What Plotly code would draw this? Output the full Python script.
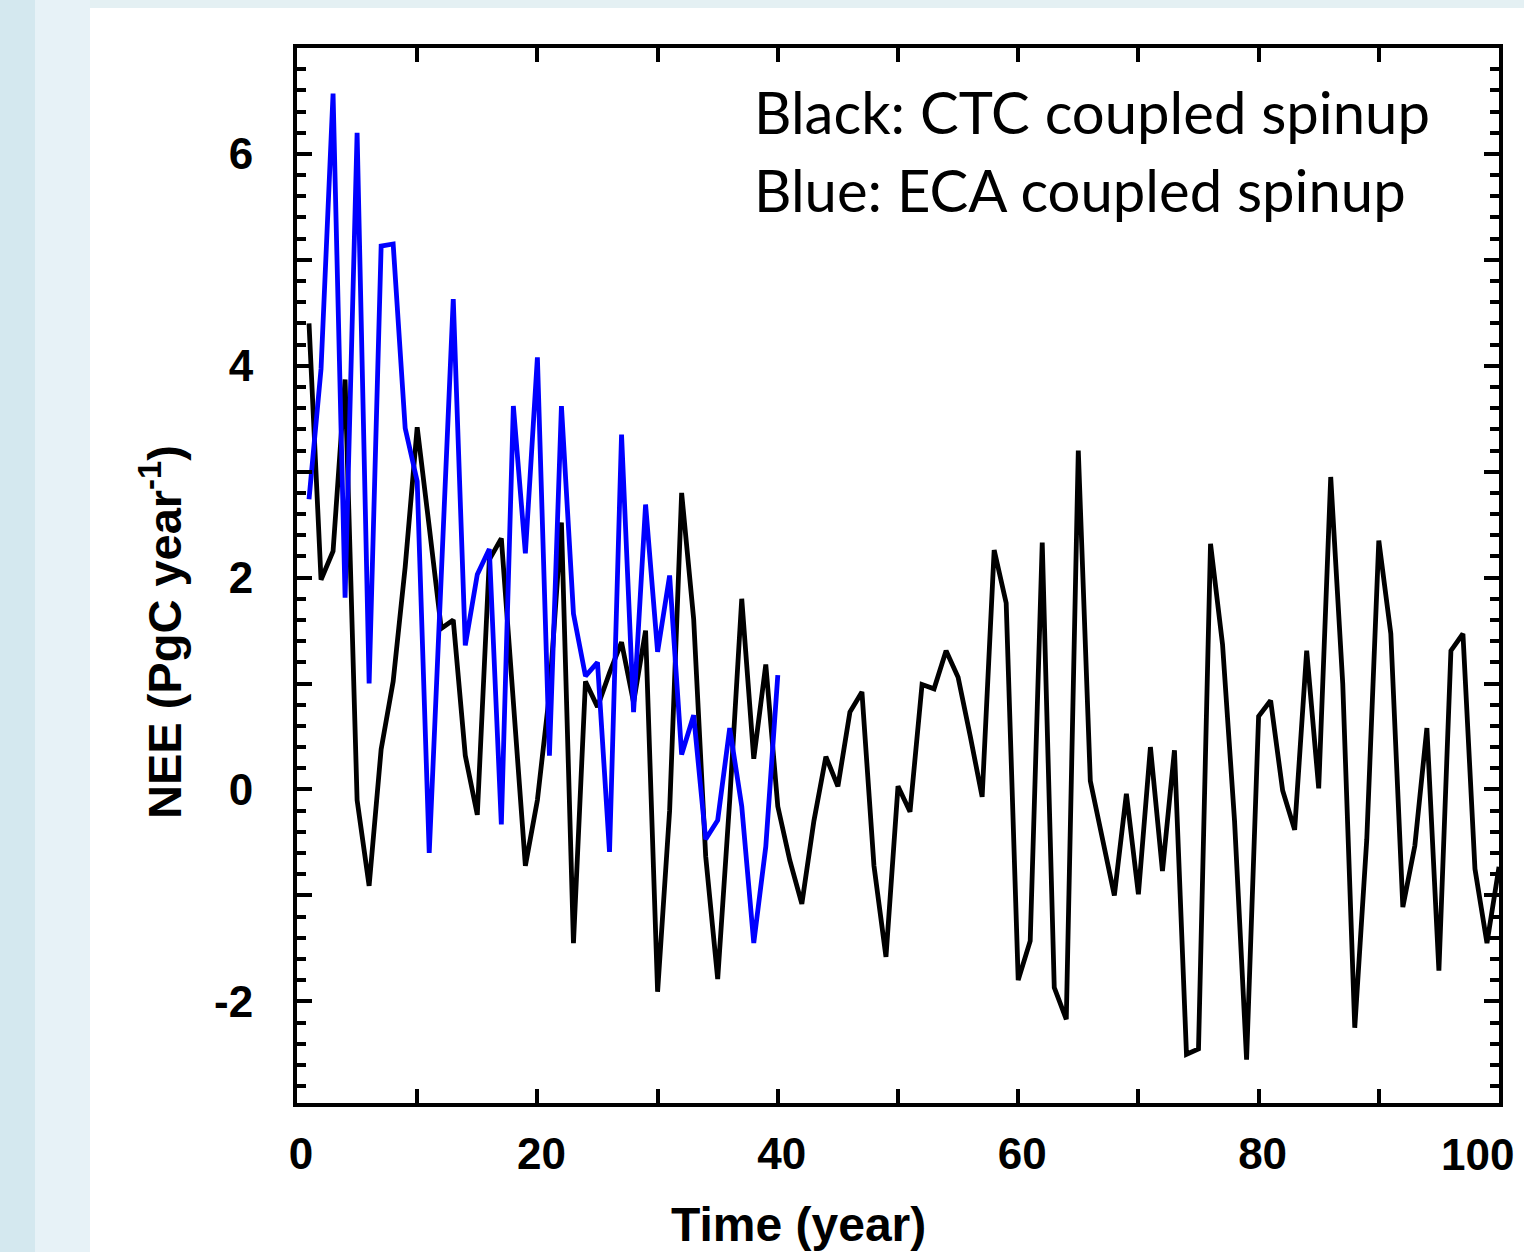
import plotly.graph_objects as go

# ---------------- data ----------------
years_ctc = list(range(1, 101))
nee_ctc = [4.40, 1.98, 2.25, 3.87, -0.10, -0.91, 0.38, 1.02, 2.10, 3.42,
           2.48, 1.52, 1.60, 0.32, -0.24, 2.17, 2.37, 0.80, -0.72, -0.10,
           0.90, 2.52, -1.45, 1.02, 0.78, 1.10, 1.39, 0.82, 1.50, -1.91,
           -0.20, 2.80, 1.61, -0.63, -1.79, -0.10, 1.80, 0.29, 1.18, -0.16,
           -0.67, -1.08, -0.30, 0.31, 0.03, 0.73, 0.92, -0.72, -1.58, 0.03,
           -0.21, 0.99, 0.95, 1.31, 1.06, 0.51, -0.07, 2.26, 1.76, -1.80,
           -1.43, 2.33, -1.87, -2.17, 3.20, 0.08, -0.45, -1.00, -0.04, -0.99,
           0.40, -0.77, 0.37, -2.50, -2.45, 2.32, 1.37, -0.30, -2.55, 0.69,
           0.84, -0.01, -0.38, 1.31, 0.01, 2.95, 1.00, -2.25, -0.47, 2.35,
           1.47, -1.11, -0.53, 0.58, -1.71, 1.31, 1.47, -0.75, -1.45, -0.73]

years_eca = list(range(1, 41))
nee_eca = [2.74, 3.97, 6.57, 1.81, 6.20, 1.00, 5.13, 5.15, 3.41, 2.91,
           -0.60, 2.00, 4.63, 1.36, 2.03, 2.27, -0.33, 3.62, 2.23, 4.08,
           0.32, 3.62, 1.66, 1.07, 1.20, -0.59, 3.35, 0.73, 2.69, 1.30,
           2.02, 0.33, 0.70, -0.47, -0.29, 0.58, -0.16, -1.45, -0.54, 1.08]

x_labeled_ticks = [0, 20, 40, 60, 80]
x_tick_text = ["0", "20", "40", "60", "80"]
x_last_label = "100"
y_labeled_ticks = [-2, 0, 2, 4, 6]
y_tick_text = ["-2", "0", "2", "4", "6"]
y_unlabeled_ticks = [-1, 1, 3, 5]

legend_lines = ["Black: CTC coupled spinup", "Blue: ECA coupled spinup"]

# ---------------- layout constants (pixels) ----------------
W, H = 1524, 1252
L, R, T, B = 297, 1499, 48, 1103  # plot-area edges


def px(xp):
    return (xp - L) / (R - L)


def py(yp):
    return (B - yp) / (B - T)


YR = [-2.96, 7.0]

fig = go.Figure()
fig.add_trace(go.Scatter(x=years_ctc, y=nee_ctc, mode="lines",
                         line=dict(color="#000000", width=4.8), showlegend=False))
fig.add_trace(go.Scatter(x=years_eca, y=nee_eca, mode="lines",
                         line=dict(color="#0000ff", width=4.8), showlegend=False))
# helper trace so that the second (tick-only) y axis is drawn
fig.add_trace(go.Scatter(x=[None], y=[None], yaxis="y2", mode="lines",
                         showlegend=False, hoverinfo="skip"))

tickfont = dict(family="Liberation Sans, Arial, sans-serif", size=44, color="black", weight="bold")

fig.update_layout(
    xaxis=dict(range=[0, 100], tickmode="array", tickvals=x_labeled_ticks, ticktext=x_tick_text,
               ticks="inside", ticklen=14, tickwidth=3.5, tickcolor="black",
               minor=dict(dtick=10, tick0=0, ticks="inside", ticklen=14, tickwidth=3.5,
                          tickcolor="black", showgrid=False),
               showline=True, linewidth=4, linecolor="black", mirror="ticks",
               showgrid=False, zeroline=False, tickfont=tickfont, ticklabelstandoff=9,
               ticklabelshift=4),
    yaxis=dict(range=YR, tickmode="array", tickvals=y_labeled_ticks, ticktext=y_tick_text,
               ticks="inside", ticklen=15, tickwidth=3.5, tickcolor="black",
               minor=dict(tick0=0, dtick=0.2, ticks="inside", ticklen=9, tickwidth=3.5,
                          tickcolor="black", showgrid=False),
               showline=True, linewidth=4, linecolor="black", mirror="ticks",
               showgrid=False, zeroline=False, tickfont=tickfont, ticklabelstandoff=31),
    yaxis2=dict(range=YR, overlaying="y", side="left", tickmode="array",
                tickvals=y_unlabeled_ticks, showticklabels=False,
                ticks="inside", ticklen=15, tickwidth=3.5, tickcolor="black",
                showline=True, linewidth=4, linecolor="black", mirror="ticks",
                showgrid=False, zeroline=False),
)

shapes = [
    dict(type="rect", xref="paper", yref="paper", x0=px(0), x1=px(35), y0=py(H), y1=py(0),
         fillcolor="#d4e8ef", line=dict(width=0), layer="below"),
    dict(type="rect", xref="paper", yref="paper", x0=px(35), x1=px(90), y0=py(H), y1=py(0),
         fillcolor="#e7f2f7", line=dict(width=0), layer="below"),
    dict(type="rect", xref="paper", yref="paper", x0=px(90), x1=px(W), y0=py(8), y1=py(0),
         fillcolor="#e4f0f3", line=dict(width=0), layer="below"),
]

legend_font = dict(family="Lato, Open Sans, sans-serif", size=58, color="black")
title_font = dict(family="Liberation Sans, Arial, sans-serif", size=48, color="black", weight="bold")

annotations = [
    dict(text=legend_lines[0], xref="paper", yref="paper", x=px(752), y=py(112),
         xanchor="left", yanchor="middle", showarrow=False, font=legend_font),
    dict(text=legend_lines[1], xref="paper", yref="paper", x=px(752), y=py(189),
         xanchor="left", yanchor="middle", showarrow=False, font=legend_font),
    dict(text=x_last_label, xref="paper", yref="paper", x=px(1477), y=py(1154),
         xanchor="center", yanchor="middle", showarrow=False, font=tickfont),
    dict(text="Time (year)", xref="paper", yref="paper", x=px(798), y=py(1224),
         xanchor="center", yanchor="middle", showarrow=False, font=title_font),
    dict(text="NEE (PgC year<sup>-1</sup>)", xref="paper", yref="paper", x=px(161), y=py(632),
         xanchor="center", yanchor="middle", showarrow=False, textangle=-90,
         font=dict(family="Liberation Sans, Arial, sans-serif", size=47, color="black",
                   weight="bold")),
]

fig.update_layout(width=W, height=H, autosize=False,
                  margin=dict(l=L, r=W - R, t=T, b=H - B, pad=0),
                  paper_bgcolor="white", plot_bgcolor="white",
                  shapes=shapes, annotations=annotations, showlegend=False)

fig.write_html("out.html", config={"displayModeBar": False},
               post_script="document.body.style.margin='0px';")
